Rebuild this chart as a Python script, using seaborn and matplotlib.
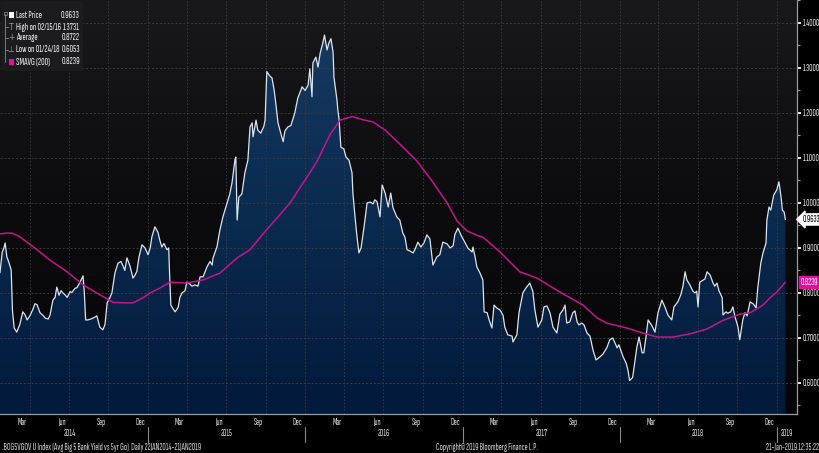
import re
import numpy as np
import pandas as pd
import matplotlib
matplotlib.use("Agg")
import matplotlib.pyplot as plt
import matplotlib.dates as mdates
from matplotlib.colors import LinearSegmentedColormap
from matplotlib.patches import FancyBboxPatch, Rectangle
from matplotlib import font_manager
from matplotlib.font_manager import FontProperties
import seaborn as sns

# ---------------- data ----------------
start_date = "2014-01-22"
end_date = "2019-01-21"

price_day = [0, 5, 9, 12, 16, 21, 26, 29, 33, 39, 46, 53, 58, 63, 70, 77, 81, 86, 93, 100,
             105, 112, 116, 123, 128, 132, 137, 142, 146, 151, 156, 163, 167, 174, 179, 186, 193, 196, 199, 204,
             211, 218, 225, 232, 239, 244, 249, 256, 260, 267, 274, 281, 286, 290, 295, 302, 309, 314, 318, 323,
             330, 337, 344, 349, 353, 360, 367, 372, 376, 381, 388, 392, 394, 397, 402, 407, 414, 418, 423, 430,
             434, 441, 446, 453, 460, 465, 472, 481, 488, 493, 495, 504, 511, 518, 523, 530, 534, 539, 546, 548,
             551, 555, 562, 569, 576, 581, 586, 588, 595, 599, 606, 613, 616, 620, 627, 632, 637, 641, 646, 651,
             658, 662, 669, 676, 685, 692, 702, 709, 716, 720, 725, 727, 734, 739, 744, 750, 754, 760, 764, 769,
             774, 776, 783, 785, 788, 792, 799, 804, 811, 818, 820, 825, 829, 834, 839, 846, 853, 860, 867, 871,
             876, 883, 888, 895, 902, 908, 913, 922, 929, 936, 941, 946, 953, 960, 964, 971, 978, 985, 992, 999,
             1006, 1015, 1022, 1029, 1039, 1046, 1053, 1057, 1064, 1073, 1080, 1087, 1097, 1099, 1104, 1108, 1115, 1122, 1125, 1132,
             1136, 1143, 1148, 1155, 1162, 1169, 1173, 1180, 1190, 1192, 1201, 1206, 1215, 1222, 1231, 1238, 1243, 1250, 1259, 1264,
             1271, 1278, 1285, 1294, 1301, 1308, 1313, 1317, 1324, 1331, 1336, 1341, 1345, 1352, 1357, 1364, 1371, 1378, 1385, 1394,
             1401, 1410, 1417, 1424, 1434, 1438, 1448, 1455, 1459, 1463, 1470, 1480, 1485, 1492, 1496, 1501, 1506, 1515, 1522, 1529,
             1538, 1545, 1552, 1561, 1566, 1575, 1582, 1587, 1592, 1596, 1603, 1610, 1615, 1619, 1622, 1626, 1633, 1638, 1643, 1650,
             1657, 1661, 1666, 1671, 1678, 1680, 1687, 1691, 1698, 1703, 1708, 1715, 1719, 1726, 1731, 1736, 1743, 1750, 1757, 1761,
             1768, 1773, 1780, 1782, 1787, 1791, 1798, 1805, 1810, 1815, 1818, 1822, 1825]

price_val = [0.845, 0.890, 0.900, 0.911, 0.880, 0.867, 0.851, 0.760, 0.722, 0.713, 0.730, 0.758, 0.752, 0.740, 0.750, 0.765, 0.776, 0.774, 0.756, 0.750,
             0.744, 0.742, 0.750, 0.784, 0.790, 0.813, 0.795, 0.805, 0.800, 0.796, 0.790, 0.803, 0.801, 0.810, 0.812, 0.824, 0.838, 0.800, 0.740, 0.740,
             0.742, 0.745, 0.749, 0.724, 0.718, 0.730, 0.778, 0.791, 0.800, 0.844, 0.866, 0.870, 0.860, 0.850, 0.878, 0.860, 0.833, 0.840, 0.848, 0.880,
             0.907, 0.900, 0.885, 0.900, 0.925, 0.947, 0.935, 0.915, 0.902, 0.910, 0.896, 0.900, 0.844, 0.773, 0.765, 0.758, 0.768, 0.790, 0.800, 0.805,
             0.824, 0.820, 0.815, 0.818, 0.815, 0.836, 0.836, 0.858, 0.870, 0.862, 0.878, 0.902, 0.940, 0.969, 0.985, 1.007, 1.020, 1.044, 1.096, 1.102,
             0.962, 1.013, 1.020, 1.067, 1.095, 1.169, 1.178, 1.147, 1.184, 1.162, 1.155, 1.170, 1.184, 1.292, 1.282, 1.278, 1.251, 1.220, 1.178, 1.160,
             1.136, 1.160, 1.169, 1.172, 1.200, 1.233, 1.258, 1.250, 1.262, 1.298, 1.236, 1.311, 1.324, 1.302, 1.333, 1.355, 1.3731, 1.340, 1.355, 1.365,
             1.335, 1.280, 1.229, 1.207, 1.185, 1.124, 1.120, 1.102, 1.095, 1.067, 1.022, 0.969, 0.930, 0.889, 0.900, 0.947, 1.000, 1.002, 0.998, 1.007,
             1.003, 0.969, 1.040, 1.022, 0.991, 1.022, 0.990, 0.969, 0.962, 0.933, 0.924, 0.896, 0.893, 0.889, 0.896, 0.913, 0.902, 0.911, 0.929, 0.920,
             0.862, 0.880, 0.885, 0.913, 0.909, 0.900, 0.905, 0.930, 0.944, 0.925, 0.913, 0.900, 0.891, 0.902, 0.880, 0.858, 0.845, 0.829, 0.758, 0.756,
             0.742, 0.722, 0.773, 0.766, 0.762, 0.750, 0.724, 0.707, 0.704, 0.691, 0.707, 0.756, 0.800, 0.811, 0.822, 0.804, 0.762, 0.724, 0.740, 0.769,
             0.771, 0.756, 0.724, 0.711, 0.753, 0.762, 0.773, 0.733, 0.736, 0.756, 0.760, 0.736, 0.729, 0.733, 0.729, 0.711, 0.704, 0.673, 0.651, 0.658,
             0.664, 0.678, 0.696, 0.700, 0.678, 0.685, 0.658, 0.644, 0.629, 0.6053, 0.612, 0.680, 0.702, 0.667, 0.667, 0.702, 0.740, 0.727, 0.713, 0.756,
             0.784, 0.769, 0.751, 0.740, 0.769, 0.780, 0.796, 0.815, 0.847, 0.829, 0.818, 0.804, 0.800, 0.804, 0.769, 0.824, 0.828, 0.831, 0.847, 0.840,
             0.822, 0.815, 0.822, 0.804, 0.790, 0.751, 0.758, 0.755, 0.758, 0.769, 0.747, 0.724, 0.696, 0.740, 0.756, 0.749, 0.780, 0.776, 0.767, 0.813,
             0.867, 0.889, 0.911, 0.962, 0.991, 0.984, 1.018, 1.029, 1.047, 1.013, 0.984, 0.980, 0.9633]

sma_day = [0, 14, 28, 46, 65, 81, 116, 156, 193, 232, 263, 290, 309, 332, 349, 372, 395, 434, 472, 511, 551,
           581, 611, 644, 674, 704, 720, 737, 767, 790, 818, 843, 867, 895, 929, 969, 1006, 1039, 1062, 1085, 1111,
           1122, 1162, 1208, 1248, 1301, 1355, 1387, 1410, 1457, 1494, 1527, 1564, 1603, 1643, 1680, 1719, 1743, 1757,
           1773, 1789, 1805, 1825]
sma_val = [0.931, 0.933, 0.933, 0.925, 0.911, 0.900, 0.873, 0.847, 0.818, 0.796, 0.779, 0.778, 0.778, 0.789, 0.800, 0.811,
           0.824, 0.822, 0.829, 0.844, 0.878, 0.896, 0.931, 0.967, 1.000, 1.044, 1.067, 1.093, 1.152, 1.184, 1.192,
           1.185, 1.180, 1.162, 1.131, 1.093, 1.046, 1.000, 0.960, 0.938, 0.927, 0.924, 0.891, 0.847, 0.833, 0.802,
           0.773, 0.745, 0.733, 0.722, 0.711, 0.702, 0.702, 0.709, 0.720, 0.739, 0.753, 0.756, 0.764, 0.773, 0.789,
           0.802, 0.8239]

y_ticks = [0.6, 0.7, 0.8, 0.9, 1.0, 1.1, 1.2, 1.3, 1.4]
y_range = (0.531, 1.451)
month_names = ["Mar", "Jun", "Sep", "Dec"]
label_months = [3, 6, 9, 12]
years = [2014, 2015, 2016, 2017, 2018, 2019]
legend_labels = ["Last Price", "High on 02/15/16", "Average", "Low on 01/24/18", "SMAVG (200)"]
legend_values = ["0.9633", "1.3731", "0.8722", "0.6053", "0.8239"]
last_price = 0.9633
last_sma = 0.8239
footer_left = ".BOG5VGOV U Index (Avg Big 5 Bank Yield vs 5yr Go)  Daily 22JAN2014-21JAN2019"
footer_mid = "Copyright\u00a9 2019 Bloomberg Finance L.P."
footer_right = "21-Jan-2019 12:35:22"

assert len(price_day) == len(price_val), (len(price_day), len(price_val))
assert len(sma_day) == len(sma_val), (len(sma_day), len(sma_val))

t0 = pd.Timestamp(start_date)
price_df = pd.DataFrame({"date": t0 + pd.to_timedelta(price_day, unit="D"), "value": price_val})
sma_df = pd.DataFrame({"date": t0 + pd.to_timedelta(sma_day, unit="D"), "value": sma_val})

# ---------------- style ----------------
sns.set_theme(style="dark")
W, H = 820, 453
fig = plt.figure(figsize=(W / 100, H / 100), dpi=100, facecolor="black")
renderer = fig.canvas.get_renderer()


def measure(s, family, size=10):
    w, h, d = renderer.get_text_width_height_descent(s, FontProperties(family=family, size=size), ismath=False)
    return w, h


# choose the condensed family whose digit proportions are closest to the terminal font
names = sorted({f.name for f in font_manager.fontManager.ttflist})
cands = [n for n in names if re.search(r"Condensed|Narrow", n)
         and not re.search(r"Black|Thin|Light|Bold|Medium|Semi ?Bold|Extra ?Light|Heavy|Hairline", n)]
target_ratio = 17.5 / 6.2
best, best_err = "DejaVu Sans", 1e9
for n in cands:
    try:
        w, _ = measure("1.4000", [n])
        _, h = measure("0", [n])
        err = abs(w / h - target_ratio)
        if err < best_err:
            best, best_err = n, err
    except Exception:
        pass
plt.rcParams["font.family"] = [best, "DejaVu Sans"]


def fit_size(sample, target_px, max_size):
    w, _ = measure(sample, plt.rcParams["font.family"])
    return min(max_size, 10 * target_px / w)


tick_fs = fit_size("1.4000", 17.0, 7.5)
leg_fs = fit_size("High on 02/15/16", 45, 7.0)
foot_fs = fit_size(footer_mid, 102, 7.0)

ax = fig.add_axes([0, (H - 414) / H, 797 / W, 414 / H])
ax.set_facecolor("#0b0b0d")

x_left = mdates.date2num(t0)
x_right = mdates.date2num(t0 + pd.Timedelta(days=1852))
ymin, ymax = y_range

bg_cmap = LinearSegmentedColormap.from_list("bg", ["#060608", "#0c0c0f", "#19191c"])
ax.imshow(np.linspace(1, 0, 256).reshape(-1, 1), extent=[x_left, x_right, ymin, ymax],
          aspect="auto", cmap=bg_cmap, origin="upper", zorder=0, interpolation="bicubic")

poly = ax.fill_between(price_df["date"], price_df["value"], ymin, facecolor="none", edgecolor="none", zorder=1)
fill_cmap = LinearSegmentedColormap.from_list("fill", ["#021a3b", "#0a2a4f", "#173a62"])
im = ax.imshow(np.linspace(1, 0, 256).reshape(-1, 1), extent=[x_left, x_right, ymin, 1.40],
               aspect="auto", cmap=fill_cmap, origin="upper", zorder=1.5, interpolation="bicubic")
im.set_clip_path(poly.get_paths()[0], transform=ax.transData)

for v in y_ticks:
    ax.axhline(v, color="#3b3b3e", lw=0.7, ls=(0, (2, 2)), zorder=2)
for yr in years:
    for m in [1, 4, 7, 10]:
        d = mdates.date2num(pd.Timestamp(yr, m, 1))
        if x_left < d < x_right:
            ax.axvline(d, color="#3b3b3e", lw=0.7, ls=(0, (1.5, 2)), zorder=2)

sns.lineplot(data=price_df, x="date", y="value", ax=ax, color="#dce3ea", lw=0.9,
             estimator=None, sort=False, zorder=4)
sns.lineplot(data=sma_df, x="date", y="value", ax=ax, color="#c4168c", lw=1.1,
             estimator=None, sort=False, zorder=5)

ax.set_xlim(x_left, x_right)
ax.set_ylim(ymin, ymax)
ax.set_xlabel("")
ax.set_ylabel("")
ax.grid(False)

for s in ["top", "left"]:
    ax.spines[s].set_visible(False)
for s in ["right", "bottom"]:
    ax.spines[s].set_visible(True)
    ax.spines[s].set_color("#9a9a9a")
    ax.spines[s].set_linewidth(0.9)

ax.yaxis.tick_right()
ax.set_yticks(y_ticks)
ax.set_yticklabels([f"{v:.4f}" for v in y_ticks])
ax.set_yticks([v + 0.05 for v in [0.5] + y_ticks], minor=True)
ax.tick_params(axis="y", which="major", direction="out", length=3, width=1.4, colors="#e6e6e6",
               labelsize=tick_fs, pad=1.2)
ax.tick_params(axis="y", which="minor", direction="out", length=2, width=0.8, colors="#9a9a9a")

month_starts = [mdates.date2num(d) for d in pd.date_range("2014-02-01", "2019-02-01", freq="MS")]
ax.set_xticks([m for m in month_starts if x_left < m < x_right], minor=True)
label_pos, label_txt = [], []
for yr in years:
    for m, nm in zip(label_months, month_names):
        p = mdates.date2num(pd.Timestamp(yr, m, 15))
        if x_left < p < x_right:
            label_pos.append(p)
            label_txt.append(nm)
ax.set_xticks(label_pos)
ax.set_xticklabels(label_txt)
ax.tick_params(axis="x", which="major", length=0, colors="#dcdcdc", labelsize=tick_fs, pad=3)
ax.tick_params(axis="x", which="minor", direction="out", length=3, width=0.8, colors="#bbbbbb")

trans = ax.get_xaxis_transform()
for yr in years:
    ys = mdates.date2num(pd.Timestamp(yr, 1, 1))
    ye = min(mdates.date2num(pd.Timestamp(yr + 1, 1, 1)), x_right)
    ax.text((ys + ye) / 2, -0.047, str(yr), transform=trans, ha="center", va="center",
            fontsize=tick_fs, color="#dcdcdc", clip_on=False)
    if ys > x_left:
        ax.plot([ys, ys], [-0.032, -0.068], transform=trans, color="#8a8a8a", lw=0.8, clip_on=False)

ytr = ax.get_yaxis_transform()
ax.text(1.007, last_price, f"{last_price:.4f}", transform=ytr, ha="left", va="center", fontsize=tick_fs,
        color="black", clip_on=False, zorder=10,
        bbox=dict(boxstyle="larrow,pad=0.12", fc="white", ec="white"))
ax.text(1.004, last_sma, f"{last_sma:.4f}", transform=ytr, ha="left", va="center", fontsize=tick_fs,
        color="white", clip_on=False, zorder=10,
        bbox=dict(boxstyle="square,pad=0.18", fc="#e0109a", ec="#e0109a"))


def fx(px):
    return px / W


def fy(py):
    return 1 - py / H


fig.text(fx(2), fy(447), footer_left, fontsize=foot_fs, color="#d0d0d0", ha="left", va="center")
fig.text(fx(487), fy(447), footer_mid, fontsize=foot_fs, color="#d0d0d0", ha="center", va="center")
fig.text(fx(819), fy(447), footer_right, fontsize=foot_fs, color="#d0d0d0", ha="right", va="center")

panel = FancyBboxPatch((fx(1), fy(71)), fx(82), 70 / H, boxstyle="round,pad=0,rounding_size=0.004",
                       transform=fig.transFigure, fc="#1c1c1e", ec="none", zorder=20)
fig.patches.append(panel)
row_y = [15, 27, 38, 50, 62]
for i, (lab, val) in enumerate(zip(legend_labels, legend_values)):
    fig.text(fx(16), fy(row_y[i]), lab, fontsize=leg_fs, color="#f0f0f0", ha="left", va="center", zorder=21)
    fig.text(fx(80), fy(row_y[i]), val, fontsize=leg_fs, color="#f0f0f0", ha="right", va="center", zorder=21)
fig.patches.append(Rectangle((fx(9), fy(18)), fx(4.5), 6 / H, transform=fig.transFigure, fc="white",
                             ec="none", zorder=21))
fig.patches.append(Rectangle((fx(9), fy(65)), fx(4.5), 6 / H, transform=fig.transFigure, fc="#e0109a",
                             ec="none", zorder=21))
for i, g in zip([1, 2, 3], ["T", "+", "\u22a5"]):
    fig.text(fx(11), fy(row_y[i]), g, fontsize=5.5, color="#9a9a9a", ha="center", va="center",
             zorder=21, family=["DejaVu Sans"])
fig.lines.append(plt.Line2D([fx(5.5), fx(5.5)], [fy(14), fy(62)], transform=fig.transFigure,
                            color="#7a7a7a", lw=0.7, zorder=21))
for yy in row_y[1:4]:
    fig.lines.append(plt.Line2D([fx(5.5), fx(8)], [fy(yy), fy(yy)], transform=fig.transFigure,
                                color="#7a7a7a", lw=0.7, zorder=21))
fig.patches.append(Rectangle((fx(4), fy(15)), fx(3), 3 / H, transform=fig.transFigure, fc="none",
                             ec="#7a7a7a", lw=0.6, zorder=21))

fig.savefig("out.png", dpi=100, facecolor="black")
